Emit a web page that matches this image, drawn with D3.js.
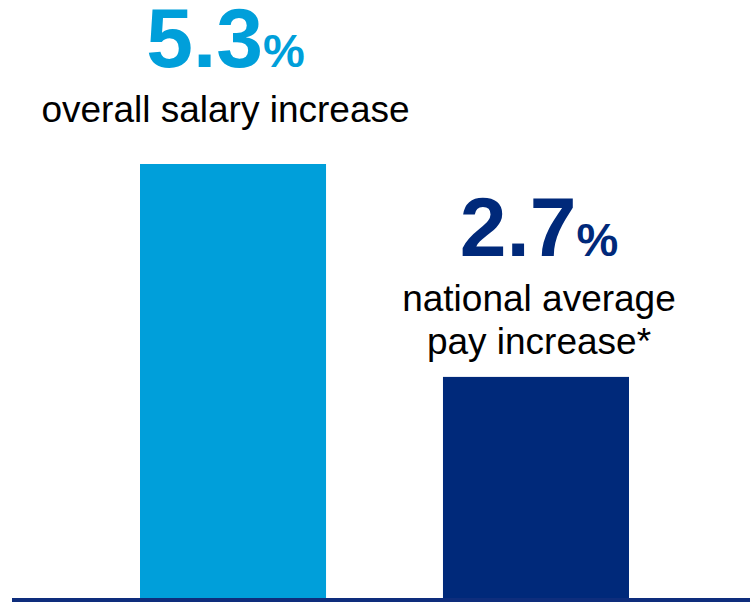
<!DOCTYPE html>
<html>
<head>
<meta charset="utf-8">
<script src="https://cdn.jsdelivr.net/npm/d3@7"></script>
<style>
  html, body { margin: 0; padding: 0; background: #ffffff; }
  svg { display: block; }
  text { font-family: "Liberation Sans", Arial, Helvetica, sans-serif; }
</style>
</head>
<body>
<svg id="chart" width="750" height="602"></svg>
<script>
// Salary increase comparison
const categories = ["overall", "national"];
const values = [5.3, 2.7];
const valueLabels = ["5.3", "2.7"];
const descriptions = [
  ["overall salary increase"],
  ["national average", "pay increase*"]
];
const colors = ["#009FDA", "#00297A"];

const W = 750, H = 602;
const baselineY = 598;
const svg = d3.select("#chart");

const x = d3.scaleBand()
  .domain(categories)
  .range([140, 629])
  .paddingInner(0.386)
  .paddingOuter(0);

const y = d3.scaleLinear()
  .domain([0, d3.max(values)])
  .range([baselineY, 164]);

// bars
svg.selectAll("rect.bar")
  .data(categories)
  .join("rect")
  .attr("class", "bar")
  .attr("x", d => x(d))
  .attr("y", (d, i) => y(values[i]))
  .attr("width", x.bandwidth())
  .attr("height", (d, i) => y(0) - y(values[i]))
  .attr("fill", (d, i) => colors[i]);

// baseline rule
svg.append("rect")
  .attr("x", 12)
  .attr("y", baselineY)
  .attr("width", W - 12)
  .attr("height", H - baselineY)
  .attr("fill", "#0E2D7C");

// labels above bars
const lineGap = 43;
const lastLineGap = [42, 23];   // space between last text line and bar top
const labelShift = [-7.5, 3];   // horizontal nudge of the label block

categories.forEach((c, i) => {
  const cx = x(c) + x.bandwidth() / 2 + labelShift[i];
  const top = y(values[i]);
  const lines = descriptions[i];
  const lastBase = top - lastLineGap[i];
  const firstBase = lastBase - (lines.length - 1) * lineGap;

  const g = svg.append("g");
  lines.forEach((t, k) => {
    g.append("text")
      .attr("x", cx)
      .attr("y", firstBase + k * lineGap)
      .attr("text-anchor", "middle")
      .attr("font-size", 37)
      .attr("fill", "#000000")
      .text(t);
  });

  const v = g.append("text")
    .attr("x", cx)
    .attr("y", firstBase - 55)
    .attr("text-anchor", "middle")
    .attr("font-weight", "bold")
    .attr("fill", colors[i]);
  v.append("tspan").attr("font-size", 84).text(valueLabels[i]);
  v.append("tspan").attr("font-size", 47).text("%");
});
</script>
</body>
</html>
